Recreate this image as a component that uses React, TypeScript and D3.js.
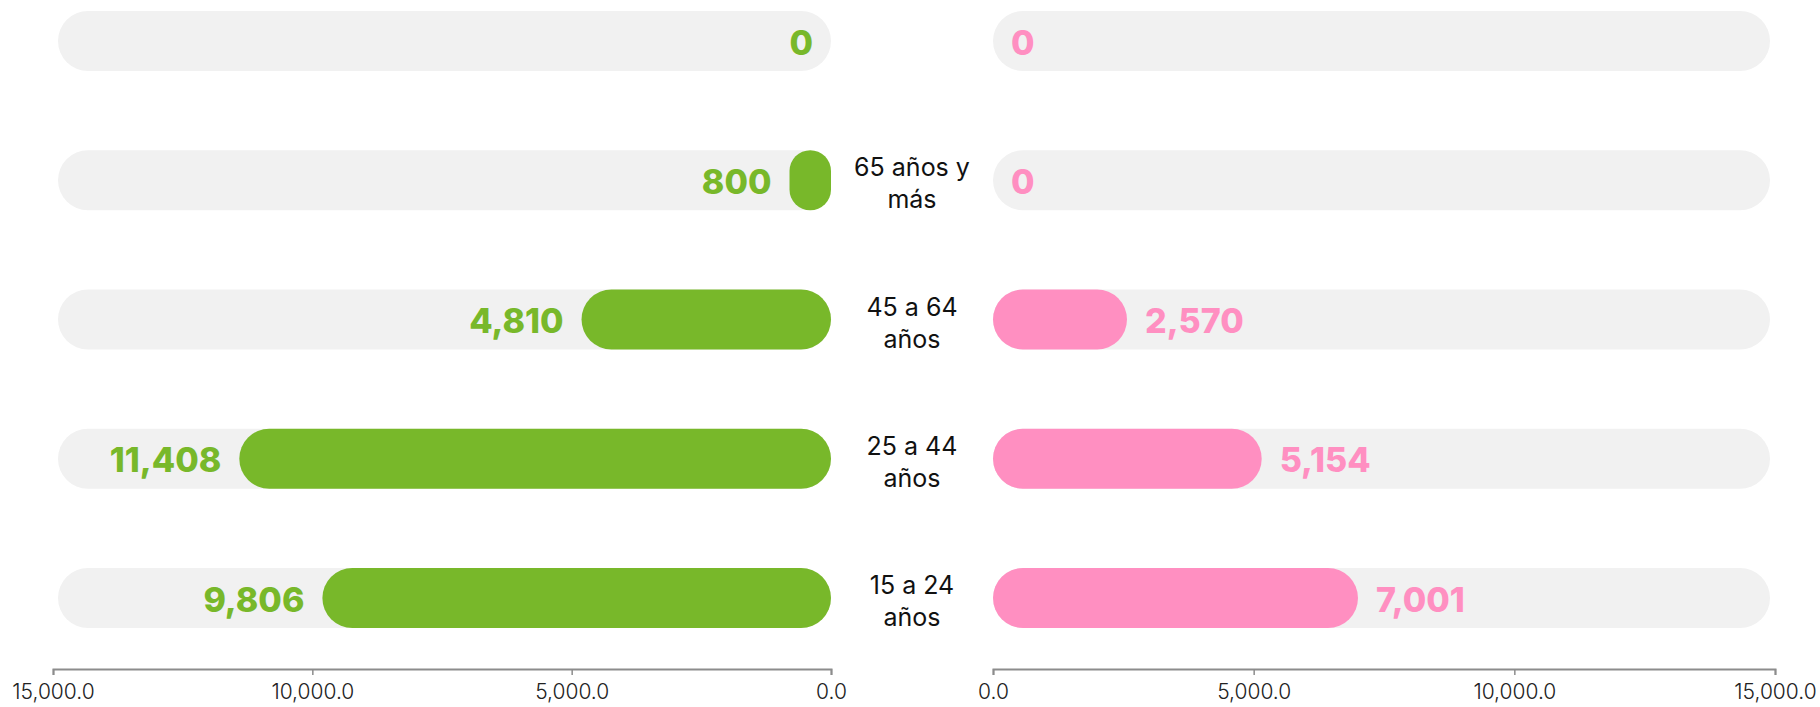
import React, { useEffect, useRef } from "react";
import * as d3 from "d3";

// age groups, top to bottom (first row has no label)
const categories = ["", "65 años y más", "45 a 64 años", "25 a 44 años", "15 a 24 años"];
const hombres = [0, 800, 4810, 11408, 9806];
const mujeres = [0, 0, 2570, 5154, 7001];
const tickValues = [0, 5000, 10000, 15000];

const W = 1820;
const H = 707;
const GREEN = "#78b82a";
const PINK = "#ff8fc1";
const TRACK = "#f1f1f1";
const FONT = "Inter, 'Open Sans', sans-serif";

export default function App() {
  const svgRef = useRef<SVGSVGElement>(null);

  useEffect(() => {
    const svg = d3.select(svgRef.current);
    svg.selectAll("*").remove();

    const maxV = 15000;
    const barH = 60;

    // left side grows to the left, right side to the right
    const xL = d3.scaleLinear().domain([0, maxV]).range([831, 53]);
    const xR = d3.scaleLinear().domain([0, maxV]).range([993, 1775]);
    const y = d3.scalePoint<number>()
      .domain(categories.map((_, i) => i))
      .range([41, 598]);

    const fmt = d3.format(",");

    const drawSide = (x: d3.ScaleLinear<number, number>, values: number[], color: string, left: boolean) => {
      const g = svg.append("g");
      // track stops a few px short of the last tick
      const inset = 5;
      const tEnd = left ? x(maxV) + inset : x(maxV) - inset;

      g.selectAll("rect.track")
        .data(values)
        .join("rect")
        .attr("class", "track")
        .attr("x", Math.min(x(0), tEnd))
        .attr("width", Math.abs(tEnd - x(0)))
        .attr("y", (_, i) => (y(i) as number) - barH / 2)
        .attr("height", barH)
        .attr("rx", barH / 2)
        .attr("fill", TRACK);

      // value bars
      const bars = values.map((v, i) => ({ v, i })).filter((d) => d.v > 0);
      g.selectAll("rect.bar")
        .data(bars)
        .join("rect")
        .attr("class", "bar")
        .attr("x", (d) => Math.min(x(0), x(d.v)))
        .attr("width", (d) => Math.abs(x(d.v) - x(0)))
        .attr("y", (d) => (y(d.i) as number) - barH / 2)
        .attr("height", barH)
        .attr("rx", (d) => Math.min(barH / 2, Math.abs(x(d.v) - x(0)) / 2))
        .attr("fill", color);

      // value labels
      const gap = 18;
      g.selectAll("text.val")
        .data(values)
        .join("text")
        .attr("class", "val")
        .attr("x", (v) => (left ? x(v) - gap : x(v) + gap))
        .attr("y", (_, i) => (y(i) as number) + 1)
        .attr("dominant-baseline", "central")
        .attr("text-anchor", left ? "end" : "start")
        .attr("font-family", FONT)
        .attr("font-weight", 800)
        .attr("font-size", 34)
        .attr("fill", color)
        .text((v) => fmt(v));

      // axis
      const axis = d3.axisBottom(x)
        .tickValues(tickValues)
        .tickSize(6)
        .tickSizeOuter(6)
        .tickPadding(9)
        .tickFormat(d3.format(",.1f") as any);
      const ga = svg.append("g").attr("transform", "translate(0,669)").call(axis);
      ga.select(".domain").attr("stroke", "#8c8c8c").attr("stroke-width", 2);
      ga.selectAll(".tick line").attr("stroke", "#8c8c8c").attr("stroke-width", 1.5);
      ga.selectAll(".tick text")
        .attr("font-family", FONT)
        .attr("font-weight", 300)
        .attr("font-size", 21)
        .attr("fill", "#222");
    };

    drawSide(xL, hombres, GREEN, true);
    drawSide(xR, mujeres, PINK, false);

    // category labels in the middle, last word on second line
    const cx = (xL(0) + xR(0)) / 2;
    const lab = svg.append("g");
    categories.forEach((c, i) => {
      if (!c) return;
      const words = c.split(" ");
      const lines = [words.slice(0, -1).join(" "), words[words.length - 1]];
      const t = lab.append("text")
        .attr("x", cx)
        .attr("y", (y(i) as number) - 4)
        .attr("text-anchor", "middle")
        .attr("font-family", FONT)
        .attr("font-size", 25)
        .attr("fill", "#111");
      lines.forEach((l, k) => {
        t.append("tspan").attr("x", cx).attr("dy", k === 0 ? 0 : 32).text(l);
      });
    });
  }, []);

  return (
    <svg
      ref={svgRef}
      width={W}
      height={H}
      style={{ position: "absolute", left: 0, top: 0, display: "block", background: "#fff" }}
    />
  );
}
